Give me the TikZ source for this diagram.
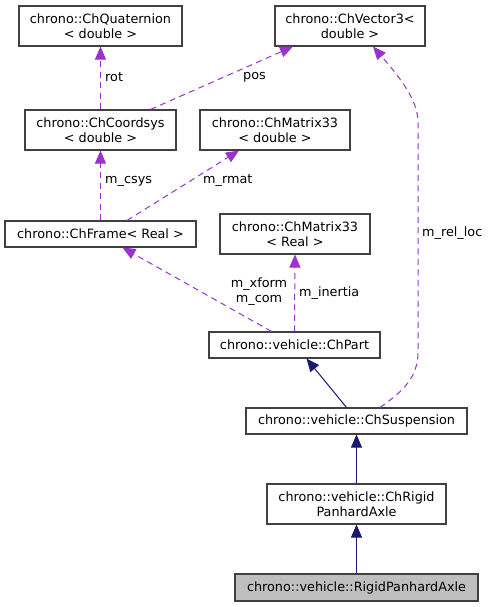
\documentclass[tikz,border=0pt]{standalone}
\usepackage{fontspec}
\setmainfont{DejaVu Sans}
\usetikzlibrary{arrows.meta}
\definecolor{depcol}{HTML}{9A32CD}
\definecolor{inhcol}{HTML}{191970}
\definecolor{boxcol}{HTML}{404040}
\definecolor{curfill}{HTML}{BFBFBF}
\begin{document}
\begin{tikzpicture}[x=1pt,y=-1pt,
  box/.style={draw=boxcol,line width=1.1pt,fill=white,rectangle,inner sep=0pt,align=center,
    font=\fontsize{12.8}{15}\selectfont},
  dep/.style={draw=depcol,line width=1pt,dash pattern=on 6pt off 4.5pt,
    -{Triangle[length=13pt,width=11pt,fill=depcol]}},
  inh/.style={draw=inhcol,line width=1pt,
    -{Triangle[length=13pt,width=11pt,fill=inhcol]}},
  lbl/.style={inner sep=0pt,anchor=west,align=center,font=\fontsize{12.8}{15}\selectfont}]
\useasboundingbox[fill=white] (0,0) rectangle (491,607);
\node[box,minimum width=163pt,minimum height=40pt] (quat) at (100.5,26) {chrono::ChQuaternion\\< double >};
\node[box,minimum width=150pt,minimum height=40pt] (vec) at (350,26) {chrono::ChVector3<\\double >};
\node[box,minimum width=151pt,minimum height=40pt] (csys) at (100.5,130) {chrono::ChCoordsys\\< double >};
\node[box,minimum width=150pt,minimum height=40pt] (m33d) at (275,130) {chrono::ChMatrix33\\< double >};
\node[box,minimum width=191pt,minimum height=26pt] (frame) at (100.5,234) {chrono::ChFrame< Real >};
\node[box,minimum width=150pt,minimum height=40pt] (m33r) at (295,234) {chrono::ChMatrix33\\< Real >};
\node[box,minimum width=171pt,minimum height=26pt] (part) at (294.5,345) {chrono::vehicle::ChPart};
\node[box,minimum width=221pt,minimum height=26pt] (susp) at (356.5,421) {chrono::vehicle::ChSuspension};
\node[box,minimum width=179pt,minimum height=40pt] (rpa) at (356.5,504) {chrono::vehicle::ChRigid\\PanhardAxle};
\node[box,fill=curfill,minimum width=243pt,minimum height=27pt] (cur) at (356.5,587.5) {chrono::vehicle::RigidPanhardAxle};

\draw[dep] (csys.north) -- (quat.south);
\draw[dep] ([xshift=50pt]csys.north) -- ([xshift=-57pt]vec.south);
\draw[dep] (frame.north) -- (csys.north |- csys.south);
\draw[dep] ([xshift=26.5pt]frame.north) -- ([xshift=-36pt]m33d.south);
\draw[dep] ([xshift=-23pt]part.north) -- ([xshift=22pt]frame.south);
\draw[dep] (part.north) -- (m33r.south);
\draw[dep] ([xshift=23.5pt]susp.north) .. controls (402,392) and (418,378) .. (418,352) -- (418,122) .. controls (418,98) and (395,72) .. ([xshift=23pt]vec.south);
\draw[inh] ([xshift=-10pt]susp.north) -- ([xshift=12pt]part.south);
\draw[inh] (rpa.north) -- (susp.south);
\draw[inh] (cur.north) -- (rpa.south);

\node[lbl] (lrot) at (105,77) {rot};
\node[lbl] (lpos) at (243,77) {pos};
\node[lbl] (lcsys) at (105,181) {m\_csys};
\node[lbl] (lrmat) at (203,181) {m\_rmat};
\node[lbl,anchor=center] (lxf) at (259,292) {m\_xform\\m\_com};
\node[lbl] (lin) at (299,293) {m\_inertia};
\node[lbl] (lrel) at (422,233) {m\_rel\_loc};
\end{tikzpicture}
\end{document}
